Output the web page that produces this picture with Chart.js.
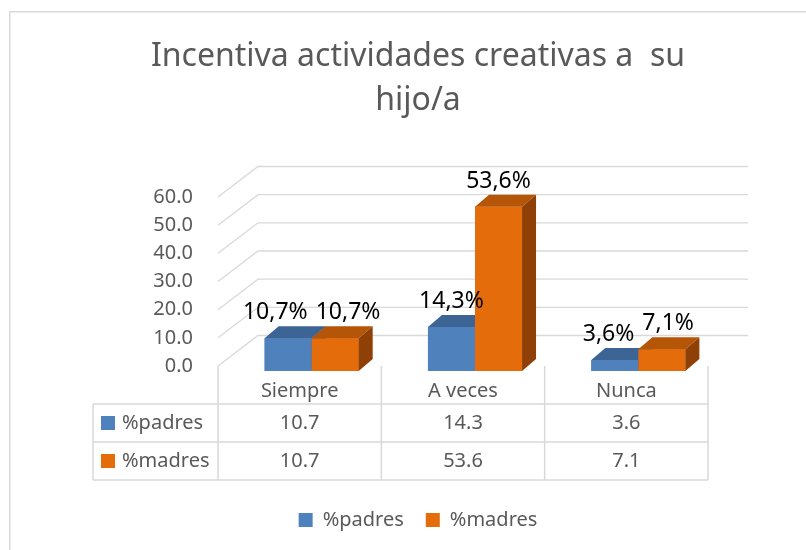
<!DOCTYPE html>
<html>
<head>
<meta charset="utf-8">
<script src="https://cdn.jsdelivr.net/npm/chart.js@4.4.1/dist/chart.umd.min.js"></script>
<style>
html, body { margin: 0; padding: 0; background: #fff; }
#grafico { display: block; }
</style>
</head>
<body>
<canvas id="grafico" width="806" height="550"></canvas>
<script>
// datos del gráfico
const categorias = ['Siempre', 'A veces', 'Nunca'];
const padres = [10.7, 14.3, 3.6];
const madres = [10.7, 53.6, 7.1];
const nombresSeries = ['%padres', '%madres'];
const tituloLineas = ['Incentiva actividades creativas a  su', 'hijo/a'];
const ticksY = [0, 10, 20, 30, 40, 50, 60];

const FUENTE = "'Noto Sans', sans-serif";
const GRIS = '#595959';
const LINEA = '#d9d9d9';
const colores = ['#4f81bd', '#e46c0a'];
const coloresTapa = ['#3c6494', '#b45508'];
const coloresLado = ['#2f4e74', '#8f4006'];

// profundidad de las barras y de la pared del fondo
const PROF_BARRA = { dx: 14, dy: -12 };
const PROF_FONDO = { dx: 40, dy: -30.5 };
const DESFASE_TABLA = -12;

function linea(ctx, x1, y1, x2, y2) {
    ctx.beginPath();
    ctx.moveTo(x1, y1);
    ctx.lineTo(x2, y2);
    ctx.stroke();
}

// fondo blanco y marco del gráfico
const pluginFondo = {
    id: 'fondo',
    beforeDraw(chart) {
        const ctx = chart.ctx;
        ctx.save();
        ctx.fillStyle = '#fff';
        ctx.fillRect(0, 0, chart.width, chart.height);
        ctx.strokeStyle = LINEA;
        ctx.lineWidth = 1.5;
        ctx.strokeRect(9.75, 11.75, chart.width + 20, chart.height + 20);
        ctx.restore();
    }
};

// pared lateral y del fondo con las líneas de la cuadrícula
const pluginCuadricula = {
    id: 'cuadricula3d',
    beforeDatasetsDraw(chart) {
        const ctx = chart.ctx;
        const x = chart.scales.x, y = chart.scales.y;
        const x0 = x.left + DESFASE_TABLA;
        const x1 = x.right + DESFASE_TABLA + PROF_FONDO.dx;
        ctx.save();
        ctx.strokeStyle = LINEA;
        ctx.lineWidth = 1.3;
        y.ticks.forEach(t => {
            const py = y.getPixelForValue(t.value);
            ctx.beginPath();
            ctx.moveTo(x0, py);
            ctx.lineTo(x0 + PROF_FONDO.dx, py + PROF_FONDO.dy);
            ctx.lineTo(x1, py + PROF_FONDO.dy);
            ctx.stroke();
        });
        ctx.restore();
    }
};

// barras en orden de serie, cada una con su tapa y su lado
const pluginCaras = {
    id: 'caras3d',
    afterDatasetsDraw(chart) {
        const ctx = chart.ctx;
        const { dx, dy } = PROF_BARRA;
        ctx.save();
        chart.data.datasets.forEach((ds, i) => {
            chart.getDatasetMeta(i).data.forEach(bar => {
                bar.draw(ctx);
                const { x, y, base, width } = bar.getProps(['x', 'y', 'base', 'width'], true);
                const l = x - width / 2, r = x + width / 2;
                ctx.fillStyle = coloresTapa[i];
                ctx.beginPath();
                ctx.moveTo(l, y);
                ctx.lineTo(r, y);
                ctx.lineTo(r + dx, y + dy);
                ctx.lineTo(l + dx, y + dy);
                ctx.closePath();
                ctx.fill();
                ctx.fillStyle = coloresLado[i];
                ctx.beginPath();
                ctx.moveTo(r, y);
                ctx.lineTo(r + dx, y + dy);
                ctx.lineTo(r + dx, base + dy);
                ctx.lineTo(r, base);
                ctx.closePath();
                ctx.fill();
            });
        });
        ctx.restore();
    }
};

// etiquetas de datos encima de las barras
const pluginEtiquetas = {
    id: 'etiquetas',
    afterDatasetsDraw(chart) {
        const ctx = chart.ctx;
        ctx.save();
        ctx.font = '23px ' + FUENTE;
        const etiquetas = [];
        chart.data.datasets.forEach((ds, i) => {
            chart.getDatasetMeta(i).data.forEach((bar, j) => {
                const texto = ds.data[j].toFixed(1).replace('.', ',') + '%';
                etiquetas.push({
                    cat: j,
                    texto: texto,
                    x: bar.x,
                    y: bar.y + PROF_BARRA.dy - 7,
                    w: ctx.measureText(texto).width
                });
            });
        });
        // separar las etiquetas que se pisan
        categorias.forEach((c, j) => {
            const [a, b] = etiquetas.filter(e => e.cat === j);
            if (Math.abs(a.y - b.y) < 24) {
                const solape = (a.x + a.w / 2 + 8) - (b.x - b.w / 2);
                if (solape > 0) {
                    a.x -= solape / 2;
                    b.x += solape / 2;
                }
            }
        });
        ctx.fillStyle = '#000';
        ctx.textAlign = 'center';
        ctx.textBaseline = 'alphabetic';
        etiquetas.forEach(e => ctx.fillText(e.texto, e.x, e.y));
        ctx.restore();
    }
};

// tabla de datos debajo del eje
const pluginTabla = {
    id: 'tabla',
    afterDraw(chart) {
        const ctx = chart.ctx;
        const x = chart.scales.x, y = chart.scales.y;
        const n = categorias.length;
        const anchoCol = x.width / n;
        const izq = x.left + DESFASE_TABLA;
        const der = izq + anchoCol * n;
        const arriba = y.bottom;
        const filas = [arriba + 38, arriba + 76, arriba + 114];
        const xEtiq = izq - 125;
        ctx.save();
        ctx.strokeStyle = LINEA;
        ctx.lineWidth = 1.5;
        for (let i = 0; i <= n; i++) {
            const px = izq + i * anchoCol;
            linea(ctx, px, arriba, px, filas[2]);
        }
        linea(ctx, xEtiq, filas[0], xEtiq, filas[2]);
        filas.forEach(f => linea(ctx, xEtiq, f, der, f));

        ctx.fillStyle = GRIS;
        ctx.font = '20px ' + FUENTE;
        ctx.textAlign = 'center';
        ctx.textBaseline = 'alphabetic';
        categorias.forEach((c, i) => {
            ctx.fillText(c, izq + anchoCol * (i + 0.5), arriba + 31);
        });
        const series = [padres, madres];
        series.forEach((vals, s) => {
            const base = filas[s] + 25;
            ctx.fillStyle = colores[s];
            ctx.fillRect(xEtiq + 8, filas[s] + 12, 14, 14);
            ctx.fillStyle = GRIS;
            ctx.textAlign = 'left';
            ctx.fillText(nombresSeries[s], xEtiq + 29, base);
            ctx.textAlign = 'center';
            vals.forEach((v, i) => {
                ctx.fillText(v.toFixed(1), izq + anchoCol * (i + 0.5), base);
            });
        });
        ctx.restore();
    }
};

const ctx = document.getElementById('grafico').getContext('2d');
const grafico = new Chart(ctx, {
    type: 'bar',
    data: {
        labels: categorias,
        datasets: [
            {
                label: nombresSeries[0],
                data: padres,
                backgroundColor: colores[0],
                borderWidth: 0,
                yAxisID: 'yb',
                base: 0,
                clip: false
            },
            {
                label: nombresSeries[1],
                data: madres,
                backgroundColor: colores[1],
                borderWidth: 0,
                yAxisID: 'yb',
                base: 0,
                clip: false
            }
        ]
    },
    options: {
        responsive: false,
        animation: false,
        devicePixelRatio: 1,
        layout: { padding: { top: 12, left: 116, right: 86, bottom: 10 } },
        datasets: { bar: { categoryPercentage: 0.576, barPercentage: 1 } },
        scales: {
            x: {
                ticks: { display: false },
                grid: { display: false },
                border: { display: false },
                afterFit: s => { s.height = 122; }
            },
            y: {
                position: 'left',
                min: 0,
                max: 60,
                afterBuildTicks: s => { s.ticks = ticksY.map(v => ({ value: v })); },
                ticks: {
                    color: GRIS,
                    padding: 37,
                    font: { family: FUENTE, size: 20 },
                    callback: v => Number(v).toFixed(1)
                },
                grid: { display: false, drawTicks: false },
                border: { display: false },
                afterFit: s => { s.width = 114; }
            },
            yb: {
                display: false,
                min: 1.6,
                max: 56.8
            }
        },
        plugins: {
            title: {
                display: true,
                text: tituloLineas,
                color: GRIS,
                font: { family: FUENTE, size: 32, weight: 'normal', lineHeight: 1.375 },
                padding: { top: 23, bottom: 74 }
            },
            legend: {
                position: 'bottom',
                labels: {
                    color: GRIS,
                    boxWidth: 14,
                    boxHeight: 14,
                    padding: 22,
                    font: { family: FUENTE, size: 20 }
                }
            },
            tooltip: { enabled: false }
        }
    },
    plugins: [pluginFondo, pluginCuadricula, pluginCaras, pluginEtiquetas, pluginTabla]
});
</script>
</body>
</html>
